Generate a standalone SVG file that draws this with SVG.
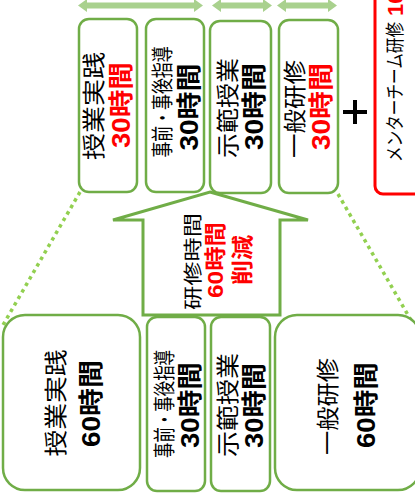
<svg xmlns="http://www.w3.org/2000/svg" width="415" height="498" viewBox="0 0 415 498">
<style>
.box{fill:#fff;stroke:#70ad47;stroke-width:2.5}
.dot{stroke:#92d050;stroke-width:3.5;stroke-dasharray:3.5 4;fill:none}
.harr{fill:#a9d18e}
.t{font-family:"Noto Sans CJK JP","Liberation Sans",sans-serif;text-anchor:start;dominant-baseline:central;fill:#000}
.n{font-size:23px}
.s{font-size:22px}
.b{font-family:"Liberation Sans","Noto Sans CJK JP",sans-serif;font-weight:bold;font-size:25px}
.red{fill:#ff0000}
</style>
<g id="connectors">
<line class="dot" x1="80" y1="192" x2="3" y2="325"/>
<line class="dot" x1="338" y1="194" x2="412" y2="322"/>
<polygon class="harr" points="78,5.5 87,-1 87,2.5 194,2.5 194,-1 203,5.5 194,12 194,8.5 87,8.5 87,12"/>
<polygon class="harr" points="212,5.5 221,-1 221,2.5 263,2.5 263,-1 272,5.5 263,12 263,8.5 221,8.5 221,12"/>
<polygon class="harr" points="277,5.5 286,-1 286,2.5 328,2.5 328,-1 337,5.5 328,12 328,8.5 286,8.5 286,12"/>
<path d="M343 112H367M355 100V124" stroke="#000" stroke-width="4" fill="none"/>
</g>
<g id="top1">
<rect class="box" x="79" y="19" width="58" height="173" rx="10"/>
<text class="t n" transform="translate(92,106) rotate(-90)" x="-54" textLength="108" lengthAdjust="spacingAndGlyphs">授業実践</text>
<text class="t b red" transform="translate(121,105) rotate(-90)" x="-43" textLength="86" lengthAdjust="spacingAndGlyphs">30時間</text>
</g>
<g id="top2">
<rect class="box" x="146" y="19" width="58" height="173" rx="10"/>
<text class="t s" transform="translate(160,102) rotate(-90)" x="-55.5" textLength="111" lengthAdjust="spacingAndGlyphs">事前・事後指導</text>
<text class="t b" transform="translate(188.5,107) rotate(-90)" x="-43.5" textLength="87" lengthAdjust="spacingAndGlyphs">30時間</text>
</g>
<g id="top3">
<rect class="box" x="210" y="21" width="61" height="172" rx="10"/>
<text class="t n" transform="translate(226,108) rotate(-90)" x="-50" textLength="100" lengthAdjust="spacingAndGlyphs">示範授業</text>
<text class="t b" transform="translate(253.5,106.5) rotate(-90)" x="-43.5" textLength="87" lengthAdjust="spacingAndGlyphs">30時間</text>
</g>
<g id="top4">
<rect class="box" x="279" y="20" width="59" height="173" rx="10"/>
<text class="t n" transform="translate(292.5,109) rotate(-90)" x="-49" textLength="98" lengthAdjust="spacingAndGlyphs">一般研修</text>
<text class="t b red" transform="translate(321,106.5) rotate(-90)" x="-43.5" textLength="87" lengthAdjust="spacingAndGlyphs">30時間</text>
</g>
<g id="mentor">
<rect x="375" y="-10" width="50" height="204" rx="8" fill="#fff" stroke="#ff0000" stroke-width="3"/>
<text class="t" style="font-size:19px" transform="translate(393.5,92) rotate(-90)" x="-70" textLength="140" lengthAdjust="spacingAndGlyphs">メンターチーム研修</text>
<text class="t b red" style="font-size:22px" transform="translate(395,16) rotate(-90)" x="0">10</text>
</g>
<g id="reduce">
<polygon points="210,192 308,220 280,220 280,315 143,315 143,220 113,220" fill="#fff" stroke="#70ad47" stroke-width="3" stroke-linejoin="miter"/>
<text class="t" style="font-size:19px" transform="translate(191,261.5) rotate(-90)" x="-48.5" textLength="97" lengthAdjust="spacingAndGlyphs">研修時間</text>
<text class="t b red" style="font-size:22px" transform="translate(215,260) rotate(-90)" x="-38" textLength="76" lengthAdjust="spacingAndGlyphs">60時間</text>
<text class="t b red" style="font-size:22px" transform="translate(242.5,260) rotate(-90)" x="-25" textLength="50" lengthAdjust="spacingAndGlyphs">削減</text>
</g>
<g id="bottom1">
<rect class="box" x="3" y="315" width="137" height="175" rx="22"/>
<text class="t n" transform="translate(54,403) rotate(-90)" x="-53.5" textLength="107" lengthAdjust="spacingAndGlyphs">授業実践</text>
<text class="t b" transform="translate(91,403.5) rotate(-90)" x="-43.5" textLength="87" lengthAdjust="spacingAndGlyphs">60時間</text>
</g>
<g id="bottom2">
<rect class="box" x="147" y="317" width="58" height="174" rx="10"/>
<text class="t s" transform="translate(161.5,404) rotate(-90)" x="-54" textLength="108" lengthAdjust="spacingAndGlyphs">事前・事後指導</text>
<text class="t b" transform="translate(190,405) rotate(-90)" x="-43" textLength="86" lengthAdjust="spacingAndGlyphs">30時間</text>
</g>
<g id="bottom3">
<rect class="box" x="211" y="317" width="59" height="174" rx="10"/>
<text class="t n" transform="translate(226,405) rotate(-90)" x="-52" textLength="104" lengthAdjust="spacingAndGlyphs">示範授業</text>
<text class="t b" transform="translate(254,405.5) rotate(-90)" x="-42.5" textLength="85" lengthAdjust="spacingAndGlyphs">30時間</text>
</g>
<g id="bottom4">
<rect class="box" x="275" y="315" width="145" height="175" rx="22"/>
<text class="t n" transform="translate(325.5,406.5) rotate(-90)" x="-48.5" textLength="97" lengthAdjust="spacingAndGlyphs">一般研修</text>
<text class="t b" transform="translate(365.5,405) rotate(-90)" x="-43" textLength="86" lengthAdjust="spacingAndGlyphs">60時間</text>
</g>
</svg>
